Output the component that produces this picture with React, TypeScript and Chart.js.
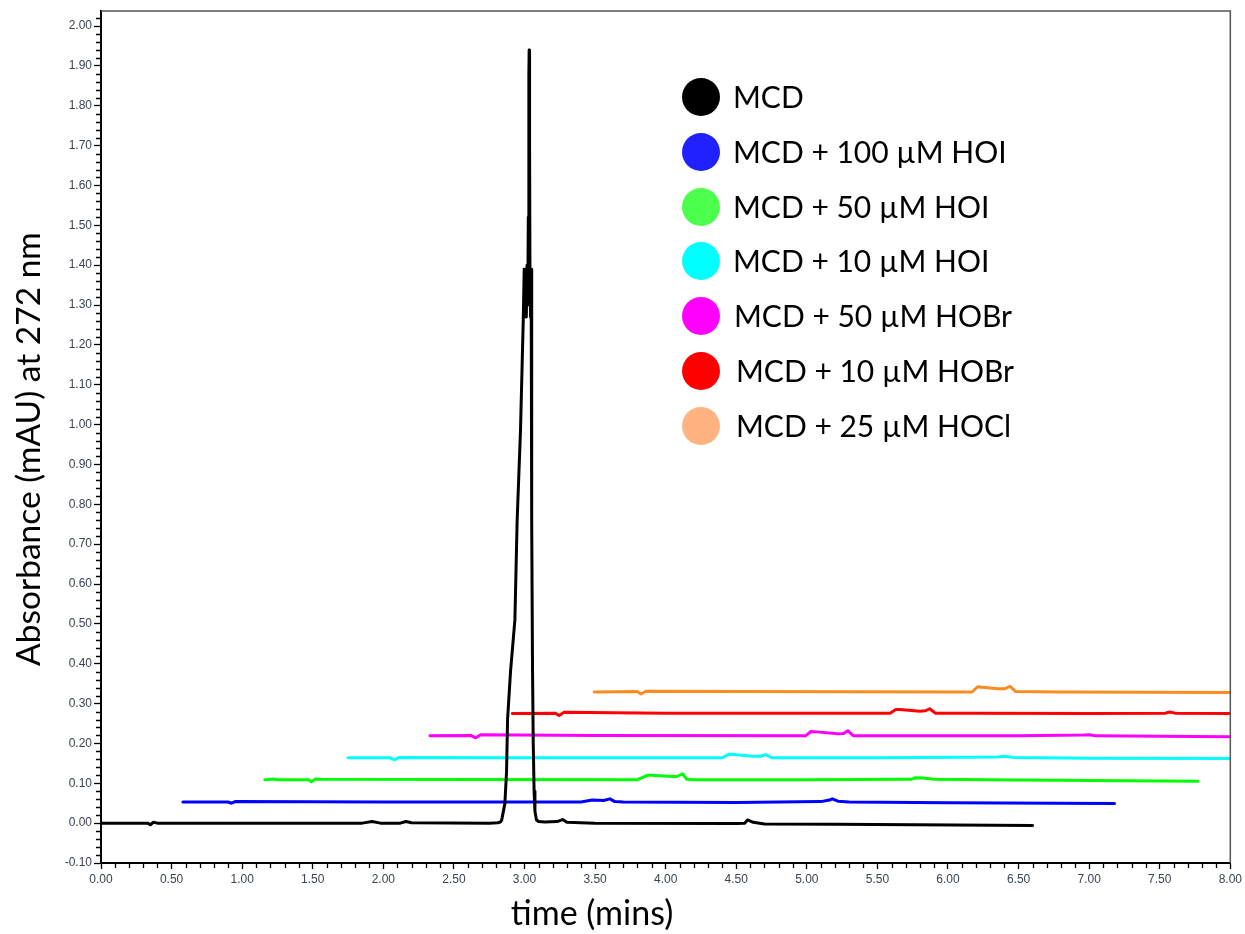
import React, { useEffect, useRef } from 'react';
import { Chart, registerables } from 'chart.js';

Chart.register(...registerables);

// ---- Data ----
const seriesLabels = [
  'MCD',
  'MCD + 100 µM HOI',
  'MCD + 50 µM HOI',
  'MCD + 10 µM HOI',
  'MCD + 50 µM HOBr',
  'MCD + 10 µM HOBr',
  'MCD + 25 µM HOCl',
];
const lineColors = ['#000000', '#0000ff', '#00ff00', '#00ffff', '#ff00ff', '#ff0000', '#ff8a1e'];
const legendColors = ['#000000', '#2121ff', '#4dff4d', '#00ffff', '#ff00ff', '#ff0000', '#ffb380'];

const xTickLabels = ['0.00', '0.50', '1.00', '1.50', '2.00', '2.50', '3.00', '3.50', '4.00', '4.50', '5.00', '5.50', '6.00', '6.50', '7.00', '7.50', '8.00'];

const mcdTime = [0.0, 0.33, 0.35, 0.37, 0.4, 1.85, 1.92, 1.98, 2.12, 2.16, 2.2, 2.75, 2.81, 2.83, 2.838, 2.861, 2.873, 2.88, 2.901, 2.932, 2.948, 2.972, 2.991, 2.998, 3.003, 3.008, 3.013, 3.018, 3.023, 3.027, 3.031, 3.033, 3.036, 3.039, 3.043, 3.047, 3.05, 3.051, 3.052, 3.057, 3.062, 3.068, 3.074, 3.085, 3.1, 3.144, 3.23, 3.27, 3.3, 3.5, 4.5, 4.56, 4.58, 4.62, 4.7, 5.2, 6.6];
const mcdAbs = [0.0, 0.0, -0.004, 0.002, 0.0, 0.0, 0.004, 0.0, 0.0, 0.004, 0.001, 0.0, 0.001, 0.003, 0.007, 0.049, 0.13, 0.26, 0.38, 0.51, 0.76, 0.99, 1.26, 1.39, 1.27, 1.39, 1.27, 1.4, 1.3, 1.52, 1.88, 1.94, 1.7, 1.35, 1.27, 1.39, 1.26, 0.99, 0.76, 0.38, 0.2, 0.08, 0.03, 0.008, 0.004, 0.003, 0.004, 0.009, 0.002, 0.0, -0.001, 0.0, 0.008, 0.002, -0.002, -0.003, -0.006];

const hoi100Time = [0.58, 0.9, 0.925, 0.95, 2.0, 3.4, 3.48, 3.56, 3.605, 3.64, 3.7, 4.5, 5.1, 5.16, 5.18, 5.22, 5.3, 6.0, 7.18];
const hoi100Abs = [0.053, 0.053, 0.05, 0.054, 0.053, 0.053, 0.058, 0.057, 0.061, 0.054, 0.053, 0.052, 0.054, 0.058, 0.061, 0.055, 0.053, 0.051, 0.049];

const hoi50Time = [1.16, 1.22, 1.25, 1.47, 1.49, 1.52, 1.56, 3.8, 3.87, 3.9, 4.05, 4.08, 4.12, 4.15, 4.2, 5.0, 5.74, 5.77, 5.82, 5.9, 6.5, 7.77];
const hoi50Abs = [0.109, 0.111, 0.109, 0.109, 0.104, 0.111, 0.11, 0.109, 0.12, 0.12, 0.117, 0.117, 0.124, 0.11, 0.109, 0.109, 0.11, 0.114, 0.113, 0.11, 0.108, 0.105];

const hoi10Time = [1.75, 2.05, 2.08, 2.11, 3.0, 4.4, 4.45, 4.48, 4.62, 4.67, 4.71, 4.75, 4.85, 5.5, 6.35, 6.4, 6.46, 7.0, 8.0];
const hoi10Abs = [0.164, 0.164, 0.159, 0.165, 0.164, 0.164, 0.173, 0.172, 0.168, 0.168, 0.172, 0.164, 0.164, 0.164, 0.166, 0.168, 0.165, 0.163, 0.162];

const hobr50Time = [2.33, 2.62, 2.655, 2.69, 3.5, 4.99, 5.03, 5.07, 5.22, 5.26, 5.29, 5.33, 5.45, 6.5, 6.96, 7.0, 7.05, 7.5, 8.0];
const hobr50Abs = [0.219, 0.22, 0.214, 0.222, 0.22, 0.219, 0.23, 0.229, 0.224, 0.225, 0.232, 0.219, 0.219, 0.219, 0.221, 0.222, 0.219, 0.218, 0.217];

const hobr10Time = [2.913, 3.22, 3.245, 3.28, 4.0, 5.59, 5.63, 5.66, 5.8, 5.84, 5.87, 5.91, 6.2, 7.0, 7.54, 7.57, 7.61, 8.0];
const hobr10Abs = [0.275, 0.276, 0.27, 0.278, 0.276, 0.276, 0.285, 0.285, 0.281, 0.282, 0.287, 0.276, 0.276, 0.275, 0.276, 0.279, 0.276, 0.275];

const hocl25Time = [3.494, 3.8, 3.825, 3.86, 4.5, 6.17, 6.21, 6.24, 6.36, 6.4, 6.44, 6.48, 6.8, 8.0];
const hocl25Abs = [0.329, 0.33, 0.324, 0.331, 0.33, 0.329, 0.342, 0.341, 0.337, 0.337, 0.343, 0.33, 0.329, 0.328];

const seriesTimes = [mcdTime, hoi100Time, hoi50Time, hoi10Time, hobr50Time, hobr10Time, hocl25Time];
const seriesAbs = [mcdAbs, hoi100Abs, hoi50Abs, hoi10Abs, hobr50Abs, hobr10Abs, hocl25Abs];

const xTitle = 'time (mins)';
const yTitle = 'Absorbance (mAU) at 272 nm';

const TITLE_FONT = '"Lato", "Open Sans", sans-serif';

const decorPlugin = {
  id: 'decor',
  afterDraw(chart: any) {
    const { ctx, chartArea: a, scales } = chart;
    const x = scales.x;
    const y = scales.y;
    ctx.save();
    // top & right frame
    ctx.strokeStyle = '#555555';
    ctx.lineWidth = 1.5;
    ctx.beginPath();
    ctx.moveTo(a.left, a.top);
    ctx.lineTo(a.right, a.top);
    ctx.lineTo(a.right, a.bottom);
    ctx.stroke();

    // minor ticks
    ctx.strokeStyle = '#000000';
    ctx.lineWidth = 1.3;
    ctx.beginPath();
    for (let i = -5; i <= 101; i++) {
      if (i % 5 === 0) continue;
      const py = Math.round(y.getPixelForValue(i * 0.02)) + 0.5;
      ctx.moveTo(a.left - 5, py);
      ctx.lineTo(a.left, py);
    }
    for (let i = 0; i <= 80; i++) {
      if (i % 5 === 0) continue;
      const px = Math.round(x.getPixelForValue(i * 0.1)) + 0.5;
      ctx.moveTo(px, a.bottom);
      ctx.lineTo(px, a.bottom + 5);
    }
    ctx.stroke();

    // axis titles
    ctx.fillStyle = '#000000';
    ctx.textAlign = 'center';
    ctx.textBaseline = 'alphabetic';
    ctx.font = `34px ${TITLE_FONT}`;
    ctx.fillText(xTitle, 592, 925);
    ctx.save();
    ctx.font = `33.5px ${TITLE_FONT}`;
    ctx.translate(40, 449);
    ctx.rotate(-Math.PI / 2);
    ctx.fillText(yTitle, 0, 0);
    ctx.restore();

    // legend
    const rowY = [97, 152, 207, 261, 316, 371, 426];
    ctx.font = `30px ${TITLE_FONT}`;
    ctx.textAlign = 'left';
    ctx.textBaseline = 'middle';
    seriesLabels.forEach((label, i) => {
      ctx.fillStyle = legendColors[i];
      ctx.beginPath();
      ctx.arc(701, rowY[i], 19, 0, Math.PI * 2);
      ctx.fill();
      ctx.fillStyle = '#000000';
      ctx.fillText(label, i < 4 ? 733 : i === 4 ? 734 : 736, rowY[i] + 1);
    });
    ctx.restore();
  },
};

export default function App() {
  const ref = useRef<HTMLCanvasElement | null>(null);
  useEffect(() => {
    if (!ref.current) return;
    const datasets = seriesLabels.map((label, i) => ({
      label,
      data: seriesTimes[i].map((t, j) => ({ x: t, y: seriesAbs[i][j] })),
      borderColor: lineColors[i],
      backgroundColor: lineColors[i],
      borderWidth: 3,
      pointRadius: 0,
      tension: 0,
      fill: false,
      borderJoinStyle: 'round' as const,
      borderCapStyle: 'round' as const,
      order: i === 0 ? 0 : 1,
    }));
    const chart = new Chart(ref.current, {
      type: 'line',
      data: { datasets },
      options: {
        animation: false,
        responsive: false,
        devicePixelRatio: 1,
        layout: { padding: { left: 0, top: 11, right: 14, bottom: 0 } },
        plugins: { legend: { display: false }, tooltip: { enabled: false } },
        scales: {
          x: {
            type: 'linear',
            min: 0,
            max: 8,
            afterFit: (s: any) => {
              s.height = 71;
            },
            border: { display: true, color: '#000000', width: 2 },
            grid: { display: true, drawOnChartArea: false, drawTicks: true, tickLength: 6, tickColor: '#000000', tickWidth: 1.3 },
            ticks: {
              stepSize: 0.5,
              padding: 3,
              maxRotation: 0,
              autoSkip: false,
              color: '#3a4452',
              font: { family: '"Liberation Sans", Arial, sans-serif', size: 12 },
              callback: (v: any) => {
                const idx = Math.round(Number(v) / 0.5);
                return xTickLabels[idx] ?? '';
              },
            },
          },
          y: {
            type: 'linear',
            min: -0.1,
            max: 2.0377,
            afterFit: (s: any) => {
              s.width = 101;
            },
            border: { display: true, color: '#000000', width: 2 },
            grid: { display: true, drawOnChartArea: false, drawTicks: true, tickLength: 7, tickColor: '#000000', tickWidth: 1.3 },
            ticks: {
              stepSize: 0.1,
              includeBounds: false,
              padding: 2,
              autoSkip: false,
              color: '#3a4452',
              font: { family: '"Liberation Sans", Arial, sans-serif', size: 12 },
              callback: (v: any) => Number(v).toFixed(2),
            },
          },
        },
      },
      plugins: [decorPlugin],
    });
    return () => chart.destroy();
  }, []);

  return (
    <div style={{ position: 'absolute', left: 0, top: 0, width: 1245, height: 934, background: '#ffffff' }}>
      <canvas ref={ref} width={1245} height={934} style={{ display: 'block' }} />
    </div>
  );
}
